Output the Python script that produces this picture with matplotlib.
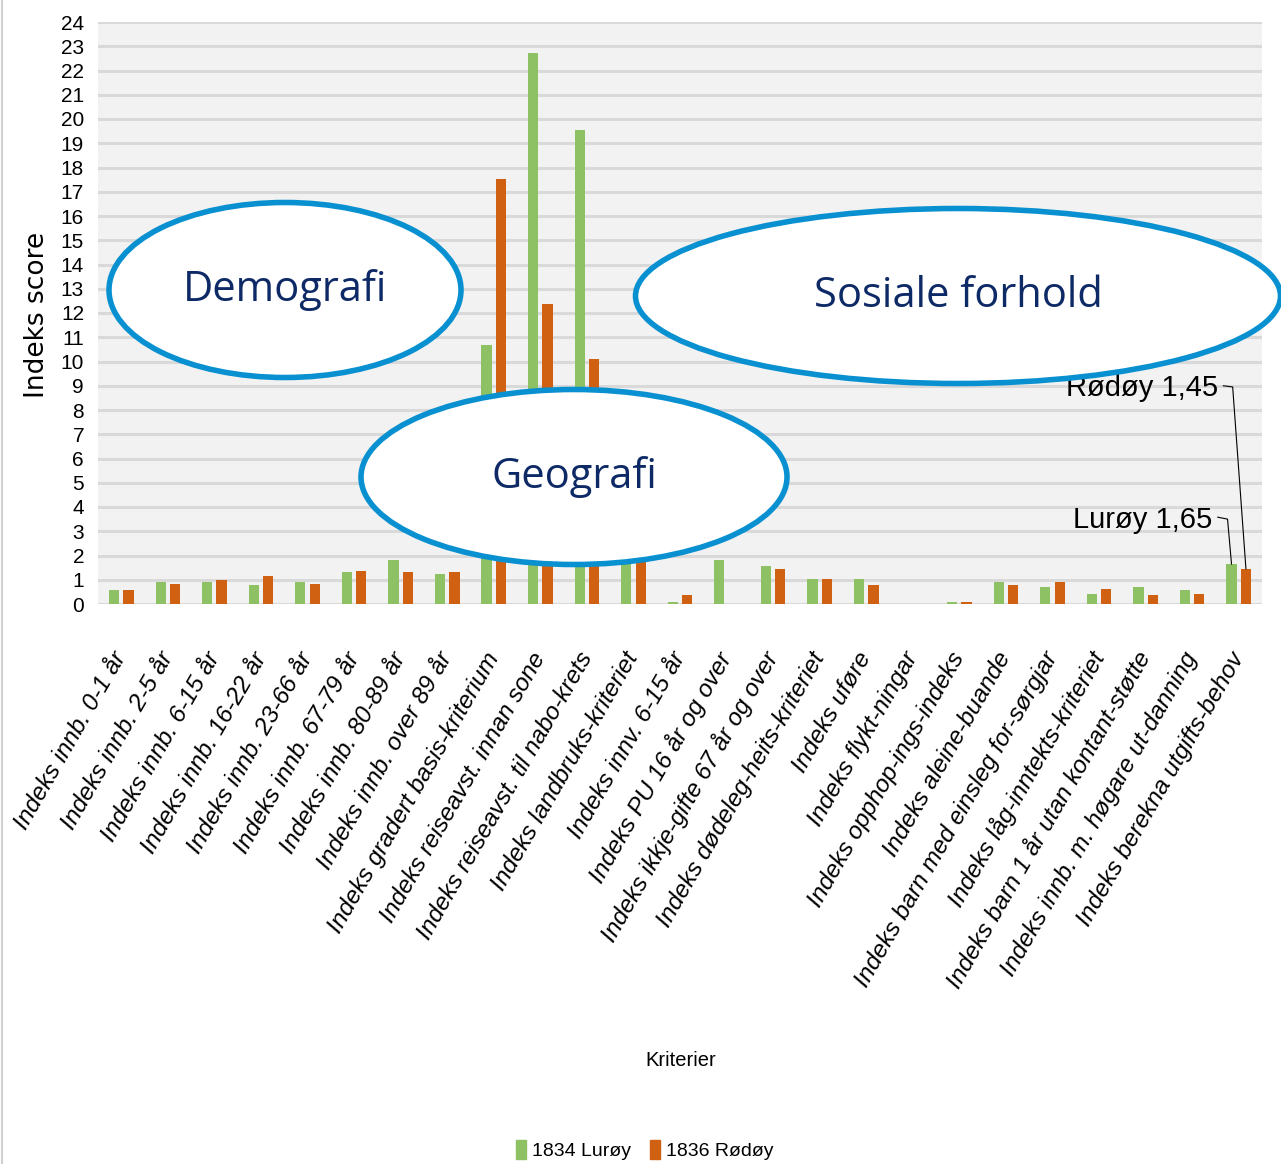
import matplotlib
matplotlib.use("Agg")
from matplotlib import pyplot as plt, patches, font_manager
from matplotlib.lines import Line2D
import numpy as np

categories = [
    "Indeks innb. 0-1 år",
    "Indeks innb. 2-5 år",
    "Indeks innb. 6-15 år",
    "Indeks innb. 16-22 år",
    "Indeks innb. 23-66 år",
    "Indeks innb. 67-79 år",
    "Indeks innb. 80-89 år",
    "Indeks innb. over 89 år",
    "Indeks gradert basis-kriterium",
    "Indeks reiseavst. innan sone",
    "Indeks reiseavst. til nabo-krets",
    "Indeks landbruks-kriteriet",
    "Indeks innv. 6-15 år",
    "Indeks PU 16 år og over",
    "Indeks ikkje-gifte 67 år og over",
    "Indeks dødeleg-heits-kriteriet",
    "Indeks uføre",
    "Indeks flykt-ningar",
    "Indeks opphop-ings-indeks",
    "Indeks aleine-buande",
    "Indeks barn med einsleg for-sørgjar",
    "Indeks låg-inntekts-kriteriet",
    "Indeks barn 1 år utan kontant-støtte",
    "Indeks innb. m. høgare ut-danning",
    "Indeks berekna utgifts-behov",
]
luroy = [0.58, 0.92, 0.92, 0.77, 0.92, 1.30, 1.82, 1.25, 10.66, 22.71, 19.53, 2.4,
         0.10, 1.82, 1.56, 1.03, 1.03, 0.0, 0.10, 0.90, 0.70, 0.42, 0.70, 0.56, 1.65]
rodoy = [0.58, 0.84, 0.97, 1.16, 0.84, 1.37, 1.30, 1.30, 17.51, 12.38, 10.12, 2.6,
         0.37, 0.0, 1.44, 1.03, 0.77, 0.0, 0.10, 0.77, 0.90, 0.63, 0.37, 0.42, 1.45]
series_names = ["1834 Lurøy", "1836 Rødøy"]
y_ticks = list(range(0, 25))

GREEN = "#8dc164"
ORANGE = "#d16112"
BLUE = "#0890d0"
NAVY = "#0e2a66"

# pick a condensed face if one is around
names = {f.name for f in font_manager.fontManager.ttflist}
narrow = "Liberation Sans Narrow" if "Liberation Sans Narrow" in names else "Liberation Sans"
plt.rcParams["font.family"] = [narrow, "DejaVu Sans"]

W, H = 1281, 1164
fig = plt.figure(figsize=(W / 100, H / 100), dpi=100)
ax = fig.add_axes([98 / W, 1 - 604 / H, (1262 - 98) / W, (604 - 22) / H])
ax.set_facecolor("#f2f2f2")

x = np.arange(len(categories))
bw = 0.22
ax.bar(x - 0.155, luroy, bw, color=GREEN, zorder=3)
ax.bar(x + 0.155, rodoy, bw, color=ORANGE, zorder=3)

ax.set_xlim(-0.5, len(categories) - 0.5)
ax.set_ylim(0, 24)
ax.set_yticks(y_ticks)
ax.set_yticklabels([str(t) for t in y_ticks], fontsize=15)
ax.yaxis.grid(True, color="#d9d9d9", lw=2.2, zorder=1)
ax.set_axisbelow(True)
for s in ax.spines.values():
    s.set_visible(False)
ax.tick_params(axis="both", length=0)
ax.tick_params(axis="y", pad=10)
ax.set_xticks(x)
ax.set_xticklabels(categories, rotation=60, ha="right", va="center",
                   rotation_mode="anchor", fontsize=17.5, style="italic")
ax.tick_params(axis="x", pad=36)

ax.set_ylabel("Indeks score", family="DejaVu Sans", fontsize=19)
ax.yaxis.set_label_coords(-0.041, 0.497)

# callouts on the last pair of bars
last = len(categories) - 1
ax.text(23.55, 8.9, "Rødøy 1,45", ha="right", va="center", fontsize=21, zorder=2)
ax.plot([23.67, 23.87, last + 0.155], [9.0, 8.95, rodoy[-1]], color="k", lw=0.8, zorder=4)
ax.text(23.43, 3.47, "Lurøy 1,65", ha="right", va="center", fontsize=21)
ax.plot([23.55, 23.76, last - 0.155], [3.58, 3.5, luroy[-1]], color="k", lw=0.8, zorder=4)

# group ellipses, drawn in pixel-ish figure coordinates
groups = [("Demografi", 285, 290, 352, 175), ("Sosiale forhold", 958, 296, 645, 175),
          ("Geografi", 574, 477, 426, 175)]
for label, cx, cy, ew, eh in groups:
    e = patches.Ellipse((cx / W, 1 - cy / H), ew / W, eh / H, transform=fig.transFigure,
                        facecolor="white", edgecolor=BLUE, lw=4, zorder=10)
    fig.patches.append(e)
    fig.text(cx / W, 1 - cy / H, label, ha="center", va="center", fontsize=30,
             family="Open Sans", color=NAVY, zorder=11)

fig.text(681 / W, 1 - 1060 / H, "Kriterier", ha="center", va="center", fontsize=14.5)

handles = [patches.Patch(color=GREEN), patches.Patch(color=ORANGE)]
fig.legend(handles, series_names, loc="center", bbox_to_anchor=(645 / W, 1 - 1150 / H),
           ncol=2, frameon=False, fontsize=14, handlelength=0.5, handleheight=1.1,
           handletextpad=0.3, columnspacing=1.0)

fig.add_artist(Line2D([0.0015, 0.0015], [0, 1], color="#d0d0d0", lw=1.5,
                      transform=fig.transFigure))

fig.savefig("out.png", dpi=100, facecolor="white")
